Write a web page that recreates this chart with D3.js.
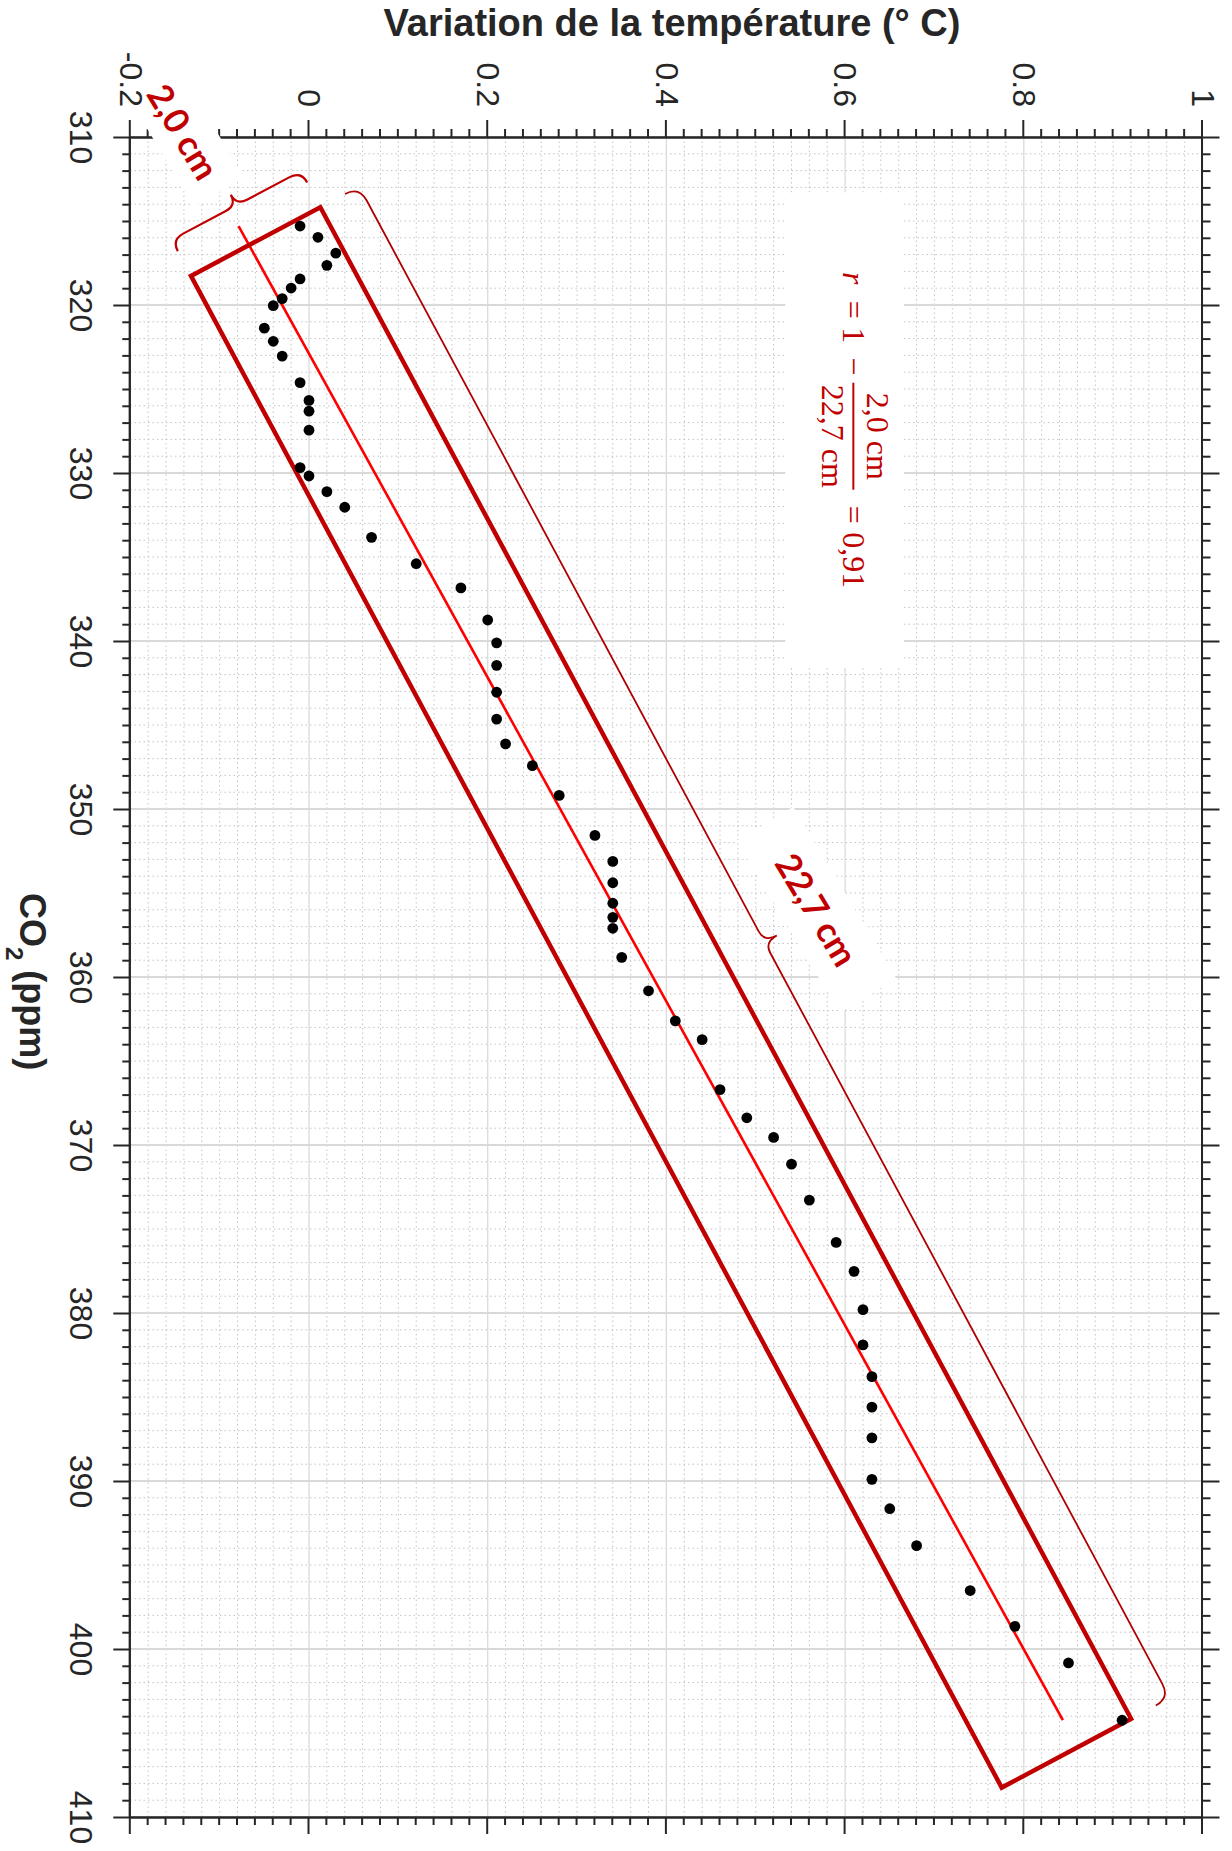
<!DOCTYPE html>
<head>
  <meta charset="utf-8">
  <script src="https://d3js.org/d3.v7.min.js"></script>
  <style>
    body { margin:0; background:#fff; }
    svg { display:block; }
  </style>
</head>

<body>
  <script>
    // CO2 (ppm) and temperature variation (deg C), one point per year
    var co2 = [315.3, 315.97, 316.91, 317.64, 318.45, 318.99, 319.62, 320.04, 321.38, 322.16,
               323.04, 324.62, 325.68, 326.32, 327.45, 329.68, 330.18, 331.11, 332.04, 333.83,
               335.40, 336.84, 338.75, 340.11, 341.45, 343.05, 344.65, 346.12, 347.42, 349.19,
               351.57, 353.12, 354.39, 355.61, 356.45, 357.10, 358.83, 360.82, 362.61, 363.73,
               366.70, 368.38, 369.55, 371.14, 373.28, 375.80, 377.52, 379.80, 381.90, 383.79,
               385.60, 387.43, 389.90, 391.65, 393.85, 396.52, 398.65, 400.83, 404.24];
    var temp = [-0.01, 0.01, 0.03, 0.02, -0.01, -0.02, -0.03, -0.04, -0.05, -0.04,
                -0.03, -0.01, 0.00, 0.00, 0.00, -0.01, 0.00, 0.02, 0.04, 0.07,
                0.12, 0.17, 0.20, 0.21, 0.21, 0.21, 0.21, 0.22, 0.25, 0.28,
                0.32, 0.34, 0.34, 0.34, 0.34, 0.34, 0.35, 0.38, 0.41, 0.44,
                0.46, 0.49, 0.52, 0.54, 0.56, 0.59, 0.61, 0.62, 0.62, 0.63,
                0.63, 0.63, 0.63, 0.65, 0.68, 0.74, 0.79, 0.85, 0.91];

    var co2Ticks = [310, 320, 330, 340, 350, 360, 370, 380, 390, 400, 410];
    var tempTicks = [-0.2, 0, 0.2, 0.4, 0.6, 0.8, 1];
    var tempTickLabels = ["-0.2", "0", "0.2", "0.4", "0.6", "0.8", "1"];

    // hand drawn ruler box around the cloud, corners as [co2, temp]
    var boxCorners = [[314.18, 0.0127], [404.15, 0.9201], [408.25, 0.7753], [318.27, -0.1321]];
    var widthLabel = "2,0 cm", lengthLabel = "22,7 cm";
    var widthLabelAt = [309.7, -0.141];
    var lengthLabelAt = [356.0, 0.568];
    var formulaBox = [[313.3, 0.533], [341.6, 0.666]];
    var formulaAt = [317.9, 0.5977];

    var width = 1232, height = 1851;
    var W = 1680, H = 1072.2;   // plot drawn lying down, then turned a quarter
    var red = "#c00000", ink = "#262626";

    var x = d3.scaleLinear().domain([310, 410]).range([0, W]);
    var y = d3.scaleLinear().domain([-0.2, 1]).range([H, 0]);

    var minorCo2 = d3.range(310, 411).filter(function(d) { return d % 10 != 0; });
    var minorTemp = d3.range(-10, 51).map(function(i) { return +(i * 0.02).toFixed(2); })
      .filter(function(d) { return Math.round(d * 100) % 20 != 0; });

    var svg = d3.select("body").append("svg")
      .attr("width", width)
      .attr("height", height);

    var g = svg.append("g")
      .attr("transform", "translate(1202.5,137) rotate(90)");

    // minor dotted grid
    g.append("g").selectAll("line").data(minorCo2).join("line")
      .attr("x1", x).attr("x2", x).attr("y1", 0).attr("y2", H);
    g.append("g").selectAll("line").data(minorTemp).join("line")
      .attr("y1", y).attr("y2", y).attr("x1", 0).attr("x2", W);
    g.selectAll("g line")
      .attr("stroke", "#c4c4c4").attr("stroke-width", 1).attr("stroke-dasharray", "1.5,3");

    // major grid
    g.append("g").selectAll("line").data(co2Ticks).join("line")
      .attr("x1", x).attr("x2", x).attr("y1", 0).attr("y2", H)
      .attr("stroke", "#d9d9d9").attr("stroke-width", 2);
    g.append("g").selectAll("line").data(tempTicks).join("line")
      .attr("y1", y).attr("y2", y).attr("x1", 0).attr("x2", W)
      .attr("stroke", "#dadada").attr("stroke-width", 1.3);

    function styleAxis(sel) {
      sel.attr("font-size", null).attr("font-family", null);
      sel.select(".domain").attr("stroke", ink).attr("stroke-width", 2);
      sel.selectAll(".tick line").attr("stroke", ink).attr("stroke-width", 2);
      sel.selectAll(".tick text")
        .style("font-family", "'Liberation Sans', Arial, sans-serif")
        .style("font-size", "32px").attr("fill", ink);
    }

    // CO2 axis (left on screen) and its mirror (right)
    g.append("g").attr("transform", "translate(0," + H + ")")
      .call(d3.axisBottom(x).tickValues(minorCo2).tickSize(8).tickSizeOuter(0).tickFormat(""))
      .call(styleAxis);
    g.append("g").attr("transform", "translate(0," + H + ")")
      .call(d3.axisBottom(x).tickValues(co2Ticks).tickSize(17).tickSizeOuter(0).tickPadding(21)
        .tickFormat(d3.format("d")))
      .call(styleAxis);
    g.append("g")
      .call(d3.axisTop(x).tickValues(minorCo2).tickSize(8).tickSizeOuter(0).tickFormat(""))
      .call(styleAxis);
    g.append("g")
      .call(d3.axisTop(x).tickValues(co2Ticks).tickSize(17).tickSizeOuter(0).tickFormat(""))
      .call(styleAxis);

    // temperature axis (top on screen) and its mirror (bottom); its labels come last
    g.append("g")
      .call(d3.axisLeft(y).tickValues(minorTemp).tickSize(8).tickSizeOuter(0).tickFormat(""))
      .call(styleAxis);
    g.append("g")
      .call(d3.axisLeft(y).tickValues(tempTicks).tickSize(17).tickSizeOuter(0).tickFormat(""))
      .call(styleAxis);
    g.append("g").attr("transform", "translate(" + W + ",0)")
      .call(d3.axisRight(y).tickValues(minorTemp).tickSize(8).tickSizeOuter(0).tickFormat(""))
      .call(styleAxis);
    g.append("g").attr("transform", "translate(" + W + ",0)")
      .call(d3.axisRight(y).tickValues(tempTicks).tickSize(17).tickSizeOuter(0).tickFormat(""))
      .call(styleAxis);

    // axis titles
    svg.append("text")
      .attr("x", 672).attr("y", 36)
      .attr("text-anchor", "middle")
      .style("font-family", "'Liberation Sans', Arial, sans-serif")
      .style("font-size", "38px").style("font-weight", "bold")
      .attr("fill", ink)
      .text("Variation de la température (° C)");

    var co2Title = g.append("text")
      .attr("x", 756).attr("y", H + 110)
      .style("font-family", "'Liberation Sans', Arial, sans-serif")
      .style("font-size", "36px").style("font-weight", "bold")
      .attr("fill", ink);
    co2Title.append("tspan").text("CO");
    co2Title.append("tspan").attr("dy", 14).style("font-size", "24px").text("2");
    co2Title.append("tspan").attr("dy", -14).text(" (ppm)");

    // least squares line
    var mx = d3.mean(co2), my = d3.mean(temp);
    var slope = d3.sum(co2, function(c, i) { return (c - mx) * (temp[i] - my); }) /
                d3.sum(co2, function(c) { return (c - mx) * (c - mx); });
    var icpt = my - slope * mx;
    var c0 = d3.min(co2), c1 = d3.max(co2);
    g.append("line")
      .attr("x1", x(c0)).attr("y1", y(icpt + slope * c0))
      .attr("x2", x(c1)).attr("y2", y(icpt + slope * c1))
      .attr("stroke", "#ff0000").attr("stroke-width", 2.6);

    // the ruler box
    var P = boxCorners.map(function(d) { return [x(d[0]), y(d[1])]; });
    g.append("polygon")
      .attr("points", P.map(function(p) { return p.join(","); }).join(" "))
      .attr("fill", "none").attr("stroke", red).attr("stroke-width", 4.5)
      .attr("stroke-linejoin", "miter");

    var cen = [d3.mean(P, function(p) { return p[0]; }), d3.mean(P, function(p) { return p[1]; })];

    function brace(p1, p2, off0, off1, off2) {
      var dx = p2[0] - p1[0], dy = p2[1] - p1[1], L = Math.hypot(dx, dy);
      var e = [dx / L, dy / L], n = [-e[1], e[0]];
      var mid = [(p1[0] + p2[0]) / 2, (p1[1] + p2[1]) / 2];
      if ((mid[0] - cen[0]) * n[0] + (mid[1] - cen[1]) * n[1] < 0) n = [-n[0], -n[1]];
      function pt(s, o) { return [p1[0] + e[0] * s + n[0] * o, p1[1] + e[1] * s + n[1] * o]; }
      var r = off1 - off0, r2 = 12, m = L / 2;
      var p = d3.path(), a, b;
      a = pt(0, off0); p.moveTo(a[0], a[1]);
      a = pt(0, off1); b = pt(r, off1); p.quadraticCurveTo(a[0], a[1], b[0], b[1]);
      a = pt(m - r2, off1); p.lineTo(a[0], a[1]);
      a = pt(m, off1); b = pt(m, off2); p.quadraticCurveTo(a[0], a[1], b[0], b[1]);
      a = pt(m, off1); b = pt(m + r2, off1); p.quadraticCurveTo(a[0], a[1], b[0], b[1]);
      a = pt(L - r, off1); p.lineTo(a[0], a[1]);
      a = pt(L, off1); b = pt(L, off0); p.quadraticCurveTo(a[0], a[1], b[0], b[1]);
      return p.toString();
    }

    g.append("path").attr("d", brace(P[0], P[1], 28, 44, 58))
      .attr("fill", "none").attr("stroke", "#b00000").attr("stroke-width", 1.8);
    g.append("path").attr("d", brace(P[3], P[0], 28, 41, 53))
      .attr("fill", "none").attr("stroke", red).attr("stroke-width", 2.2);

    function sizeLabel(at, txt, w, h) {
      var lg = g.append("g")
        .attr("transform", "translate(" + x(at[0]) + "," + y(at[1]) + ") rotate(-31)");
      lg.append("rect").attr("x", -w / 2).attr("y", -h / 2).attr("width", w).attr("height", h)
        .attr("fill", "#fff");
      lg.append("text").attr("text-anchor", "middle").attr("dy", "0.36em")
        .style("font-family", "Lato, 'Open Sans', sans-serif")
        .style("font-size", "35px").style("font-weight", "bold")
        .attr("fill", red).text(txt);
    }
    sizeLabel(widthLabelAt, widthLabel, 140, 58);
    sizeLabel(lengthLabelAt, lengthLabel, 200, 66);

    // labels of the temperature axis sit above the white label cards
    g.append("g")
      .call(d3.axisLeft(y).tickValues(tempTicks).tickSize(17).tickSizeOuter(0).tickPadding(13)
        .tickFormat(function(d, i) { return tempTickLabels[i]; }))
      .call(styleAxis)
      .call(function(sel) { sel.select(".domain").remove(); sel.selectAll(".tick line").remove(); });

    // r formula on its white card
    g.append("rect")
      .attr("x", x(formulaBox[0][0])).attr("width", x(formulaBox[1][0]) - x(formulaBox[0][0]))
      .attr("y", y(formulaBox[1][1])).attr("height", y(formulaBox[0][1]) - y(formulaBox[1][1]))
      .attr("fill", "#fff");

    var fx = x(formulaAt[0]), fy = y(formulaAt[1]);
    var fg = g.append("g").attr("transform", "translate(" + fx + "," + fy + ")")
      .style("font-family", "'Liberation Serif', 'DejaVu Serif', serif")
      .style("font-size", "32px").attr("fill", red).attr("text-anchor", "middle");
    var parts = [
      {t: "r", at: 8.5, dy: 0, it: true},
      {t: "=", at: 40, dy: 0},
      {t: "1", at: 65.5, dy: 0},
      {t: "\u2212", at: 96.5, dy: 0},
      {t: "2,0 cm", at: 166.7, dy: -23.7},
      {t: "22,7 cm", at: 166.5, dy: 21.3},
      {t: "=", at: 245, dy: 0},
      {t: "0,91", at: 290.5, dy: 0}
    ];
    fg.selectAll("text").data(parts).join("text")
      .attr("x", function(d) { return d.at; })
      .attr("y", function(d) { return d.dy; })
      .style("font-style", function(d) { return d.it ? "italic" : null; })
      .text(function(d) { return d.t; });
    fg.append("line").attr("x1", 113).attr("x2", 220).attr("y1", -10.3).attr("y2", -10.3)
      .attr("stroke", red).attr("stroke-width", 2);

    // data points
    g.append("g").selectAll("circle").data(d3.zip(co2, temp)).join("circle")
      .attr("cx", function(d) { return x(d[0]); })
      .attr("cy", function(d) { return y(d[1]); })
      .attr("r", 5.4)
      .attr("fill", "#000");
  </script>
</body>
